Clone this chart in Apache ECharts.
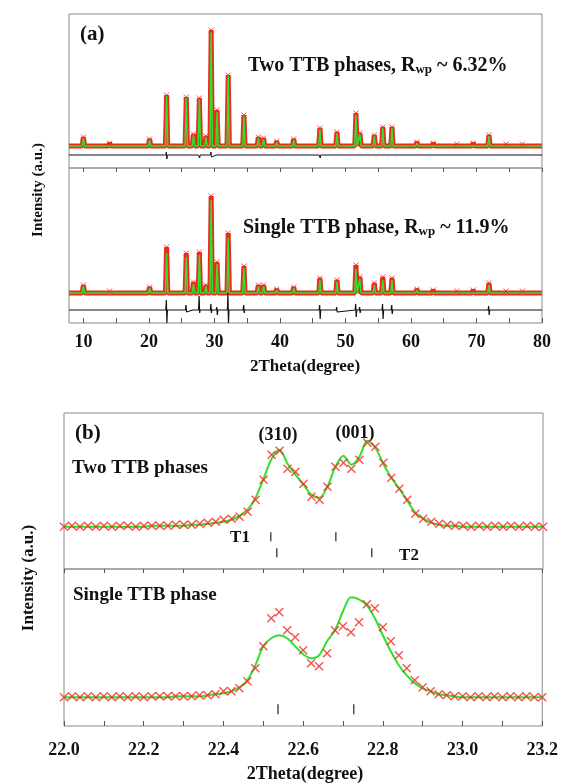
<!DOCTYPE html>
<html><head><meta charset="utf-8">
<script src="https://cdn.jsdelivr.net/npm/echarts@6/dist/echarts.min.js"></script>
<style>html,body{margin:0;padding:0;background:#fff}#c{width:561px;height:783px}</style>
</head><body><div id="c"></div>
<script>
// ---------- Panel (a): full patterns (peak positions in 2θ, heights in a.u.) ----------
const peakPos   = [10.0,14.0,20.1,22.7,25.7,26.8,27.7,28.7,29.5,30.4,32.1,34.5,36.7,37.5,39.5,42.1,46.1,48.7,51.6,52.2,54.4,55.7,57.1,60.9,63.4,67.0,69.5,71.9,74.5,77.0];
const obsTwoH   = [9,3,7,51,49,12,48,10,116,36,71,31,9,8,5,7,18,14,33,13,11,19,19,4,3,2,3,11,2,2];
const calcTwoH  = [8,2,6,50,48,11,47,9,114,34,70,30,8,7,4,6,17,13,31,12,10,18,18,3,2,1,2,10,1,1];
const obsOneH   = [8,2,6,46,40,11,41,8,97,31,60,27,8,8,4,6,15,13,28,16,10,16,15,4,3,2,3,10,2,2];
const calcOneH  = [7,1,5,40,36,9,38,7,93,29,55,25,7,7,3,5,13,11,24,14,8,13,13,3,2,1,2,8,1,1];
// difference curves (obs - calc), offsets below the patterns
const diffTwoPos  = [22.7,25.7,27.7,29.5,30.4,32.1,34.5,46.1,48.7,51.6,55.7,57.1,71.9];
const diffTwoUp   = [3,2,2,3,2,2,2,2,1,2,2,2,2];
const diffTwoDown = [-4,-2,-3,-2,-2,-2,-2,-3,-1,-2,-2,-2,-2];
const diffOnePos  = [22.7,25.7,26.8,27.7,29.5,30.4,32.1,34.5,37.0,46.1,48.7,51.6,52.2,54.4,55.7,57.1,71.9];
const diffOneUp   = [10,5,2,14,6,3,17,5,2,5,3,6,3,2,6,5,4];
const diffOneDown = [-13,-2,-2,-3,-3,-5,-13,-3,-2,-9,-2,-7,-3,-2,-9,-4,-5];
const ticksA      = [10,20,30,40,50,60,70,80];
const minorTicksA = [10,15,20,25,30,35,40,45,50,55,60,65,70,75,80];

// ---------- Panel (b): zoom on 22.0–23.2 ----------
const thetaB = [22.00,22.02,22.04,22.06,22.08,22.10,22.12,22.14,22.16,22.18,22.20,22.22,22.24,22.26,22.28,22.30,22.32,22.34,22.36,22.38,
  22.40,22.42,22.44,22.46,22.48,22.50,22.52,22.54,22.56,22.58,22.60,22.62,22.64,22.66,22.68,22.70,22.72,22.74,22.76,22.78,
  22.80,22.82,22.84,22.86,22.88,22.90,22.92,22.94,22.96,22.98,23.00,23.02,23.04,23.06,23.08,23.10,23.12,23.14,23.16,23.18,23.20];
const obsTwoB  = [0,1,0,1,0,1,0,1,1,0,1,1,1,1,2,2,2,3,4,5,
  7,8,10,15,27,47,72,76,58,55,43,30,27,40,60,64,58,67,84,80,
  64,49,38,27,13,8,5,3,2,1,1,0,1,0,1,0,1,0,1,0,0];
const calcTwoB = [0,0,0,0,0,0,0,0,0,0,0,1,1,1,1,1,2,2,3,4,
  5,7,11,17,29,48,68,77,63,52,42,32,29,40,60,71,62,70,86,79,
  63,49,38,26,14,8,4,2,1,1,0,0,0,0,0,0,0,0,0,0,0];
const obsOneB  = [0,1,0,1,0,1,0,1,0,1,0,1,1,1,1,1,1,2,2,3,
  6,6,9,16,29,51,79,85,67,60,47,34,31,44,67,71,65,75,93,89,
  70,56,42,29,17,10,6,3,2,1,1,0,1,0,1,0,1,0,1,0,0];
const calcOneB = [0,0,0,0,0,0,0,0,0,0,0,0,0,0,1,1,1,1,2,3,
  4,6,10,17,32,51,59,62,59,51,43,39,42,56,67,86,100,98,92,79,
  62,46,32,22,14,9,6,3,2,1,0,0,0,0,0,0,0,0,0,0,0];
const reflT1     = [22.518,22.681];
const reflT2     = [22.533,22.771];
const reflSingle = [22.537,22.727];
const ticksB      = [22.0,22.2,22.4,22.6,22.8,23.0,23.2];
const minorTicksB = [22.0,22.1,22.2,22.3,22.4,22.5,22.6,22.7,22.8,22.9,23.0,23.1,23.2];

// ---------- build ----------
const A_MIN = 7.8, A_MAX = 80;
const RED = '#f0281e', GREEN = '#2fe02f', FRAME = '#8a8a8a';
const FONT = '"Liberation Serif","Times New Roman",serif';
const XSYM = 'path://M0,0L10,10M10,0L0,10';

function profile(pos, h){
  const hw = 0.18, d = [[A_MIN,0]];
  pos.forEach((p,i)=>{ d.push([p-hw,0],[p,h[i]],[p+hw,0]); });
  d.push([A_MAX,0]); return d;
}
function tops(pos,h){ return pos.map((p,i)=>[p,h[i]]); }
function diffLine(base,pos,up,down){
  const d=[[A_MIN,base]];
  pos.forEach((p,i)=>{ d.push([p-0.12,base],[p-0.04,base+up[i]],[p+0.04,base+down[i]],[p+0.12,base]); });
  d.push([A_MAX,base]); return d;
}
function zipB(v){ return thetaB.map((t,i)=>[t,v[i]]); }

const chart = echarts.init(document.getElementById('c'), null, {renderer:'canvas'});
const gridBase = {show:true, borderColor:FRAME, borderWidth:1, backgroundColor:'transparent'};
const hiddenX = (gi,min,max)=>({type:'value',gridIndex:gi,min,max,axisLine:{show:false,onZero:false},axisTick:{show:false},axisLabel:{show:false},splitLine:{show:false}});
const labelStyle = {fontFamily:FONT,fontWeight:'bold',fontSize:18,color:'#111'};
const noLine = {show:false,onZero:false};

const option = {
  animation:false,
  backgroundColor:'#fff',
  grid:[
    Object.assign({left:69, top:14, width:473, height:154}, gridBase),
    Object.assign({left:69, top:168, width:473, height:155}, gridBase),
    Object.assign({left:64, top:413, width:479, height:156}, gridBase),
    Object.assign({left:64, top:569, width:479, height:157}, gridBase)
  ],
  xAxis:[
    hiddenX(0,A_MIN,A_MAX),
    {type:'value',gridIndex:1,min:A_MIN,max:A_MAX,position:'bottom',axisLine:noLine,splitLine:{show:false},
     axisTick:{show:true,inside:true,length:5,customValues:minorTicksA,lineStyle:{color:'#555'}},
     axisLabel:Object.assign({show:true,margin:10,customValues:ticksA},labelStyle)},
    {type:'value',gridIndex:1,min:A_MIN,max:A_MAX,position:'top',axisLine:noLine,splitLine:{show:false},
     axisTick:{show:true,inside:true,length:4,customValues:minorTicksA,lineStyle:{color:'#555'}},axisLabel:{show:false}},
    hiddenX(2,22,23.2),
    {type:'value',gridIndex:3,min:22,max:23.2,position:'bottom',axisLine:noLine,splitLine:{show:false},
     axisTick:{show:true,inside:true,length:5,customValues:minorTicksB,lineStyle:{color:'#555'}},
     axisLabel:Object.assign({show:true,margin:15,customValues:ticksB,formatter:v=>Number(v).toFixed(1)},labelStyle)},
    {type:'value',gridIndex:3,min:22,max:23.2,position:'top',axisLine:noLine,splitLine:{show:false},
     axisTick:{show:true,inside:true,length:4,customValues:minorTicksB,lineStyle:{color:'#555'}},axisLabel:{show:false}}
  ],
  yAxis:[
    {type:'value',gridIndex:0,min:-22,max:132,show:false},
    {type:'value',gridIndex:1,min:-30,max:125,show:false},
    {type:'value',gridIndex:2,min:-42.3,max:113.7,show:false},
    {type:'value',gridIndex:3,min:-28.7,max:128.3,show:false}
  ],
  series:[
    // panel (a) top: two TTB phases
    {type:'line',xAxisIndex:0,yAxisIndex:0,data:profile(peakPos,obsTwoH),showSymbol:false,lineStyle:{color:RED,width:5},z:2},
    {type:'line',xAxisIndex:0,yAxisIndex:0,data:profile(peakPos,calcTwoH),showSymbol:false,lineStyle:{color:GREEN,width:1.5},z:3},
    {type:'scatter',xAxisIndex:0,yAxisIndex:0,data:tops(peakPos,obsTwoH),symbol:XSYM,symbolSize:5,itemStyle:{color:'none',borderColor:RED,borderWidth:1},z:4},
    {type:'line',xAxisIndex:0,yAxisIndex:0,data:diffLine(-9,diffTwoPos,diffTwoUp,diffTwoDown),showSymbol:false,lineStyle:{color:'#111',width:1},z:3},
    // panel (a) bottom: single TTB phase
    {type:'line',xAxisIndex:1,yAxisIndex:1,data:profile(peakPos,obsOneH),showSymbol:false,lineStyle:{color:RED,width:5},z:2},
    {type:'line',xAxisIndex:1,yAxisIndex:1,data:profile(peakPos,calcOneH),showSymbol:false,lineStyle:{color:GREEN,width:1.5},z:3},
    {type:'scatter',xAxisIndex:1,yAxisIndex:1,data:tops(peakPos,obsOneH),symbol:XSYM,symbolSize:5,itemStyle:{color:'none',borderColor:RED,borderWidth:1},z:4},
    {type:'line',xAxisIndex:1,yAxisIndex:1,data:diffLine(-17,diffOnePos,diffOneUp,diffOneDown),showSymbol:false,lineStyle:{color:'#111',width:1.2},z:3},
    // panel (b) top
    {type:'line',xAxisIndex:3,yAxisIndex:2,data:zipB(calcTwoB),smooth:0.3,showSymbol:false,lineStyle:{color:GREEN,width:2},z:3},
    {type:'scatter',xAxisIndex:3,yAxisIndex:2,data:zipB(obsTwoB),symbol:XSYM,symbolSize:8,itemStyle:{color:'none',borderColor:RED,borderWidth:1.4},z:4},
    {type:'scatter',xAxisIndex:3,yAxisIndex:2,data:reflT1.map(t=>[t,-10]),symbol:'rect',symbolSize:[1.5,9],itemStyle:{color:'#222'}},
    {type:'scatter',xAxisIndex:3,yAxisIndex:2,data:reflT2.map(t=>[t,-26]),symbol:'rect',symbolSize:[1.5,9],itemStyle:{color:'#222'}},
    // panel (b) bottom
    {type:'line',xAxisIndex:4,yAxisIndex:3,data:zipB(calcOneB),smooth:0.3,showSymbol:false,lineStyle:{color:GREEN,width:2},z:3},
    {type:'scatter',xAxisIndex:4,yAxisIndex:3,data:zipB(obsOneB),symbol:XSYM,symbolSize:8,itemStyle:{color:'none',borderColor:RED,borderWidth:1.4},z:4},
    {type:'scatter',xAxisIndex:4,yAxisIndex:3,data:reflSingle.map(t=>[t,-12]),symbol:'rect',symbolSize:[1.5,10],itemStyle:{color:'#222'}}
  ],
  graphic:[
    {type:'text',x:80,y:35,style:{text:'(a)',fill:'#111',font:'bold 21px '+FONT,verticalAlign:'middle'}},
    {type:'text',x:248,y:66,style:{text:'{m|Two TTB phases, R}{s|wp}{m| ~ 6.32%}',verticalAlign:'middle',
      rich:{m:{fontFamily:FONT,fontWeight:'bold',fontSize:20,fill:'#111',color:'#111',lineHeight:20,verticalAlign:'top'},
            s:{fontFamily:FONT,fontWeight:'bold',fontSize:13,fill:'#111',color:'#111',lineHeight:12,verticalAlign:'bottom'}}}},
    {type:'text',x:243,y:228,style:{text:'{m|Single TTB phase, R}{s|wp}{m| ~ 11.9%}',verticalAlign:'middle',
      rich:{m:{fontFamily:FONT,fontWeight:'bold',fontSize:20,fill:'#111',color:'#111',lineHeight:20,verticalAlign:'top'},
            s:{fontFamily:FONT,fontWeight:'bold',fontSize:13,fill:'#111',color:'#111',lineHeight:12,verticalAlign:'bottom'}}}},
    {type:'text',x:38,y:190,rotation:Math.PI/2,style:{text:'Intensity (a.u.)',fill:'#111',font:'bold 15px '+FONT,align:'center',verticalAlign:'middle'}},
    {type:'text',x:305,y:367,style:{text:'2Theta(degree)',fill:'#111',font:'bold 17px '+FONT,align:'center',verticalAlign:'middle'}},
    {type:'text',x:75,y:434,style:{text:'(b)',fill:'#111',font:'bold 21px '+FONT,verticalAlign:'middle'}},
    {type:'text',x:72,y:468,style:{text:'Two TTB phases',fill:'#111',font:'bold 19px '+FONT,verticalAlign:'middle'}},
    {type:'text',x:278,y:435,style:{text:'(310)',fill:'#111',font:'bold 18px '+FONT,align:'center',verticalAlign:'middle'}},
    {type:'text',x:355,y:433,style:{text:'(001)',fill:'#111',font:'bold 18px '+FONT,align:'center',verticalAlign:'middle'}},
    {type:'text',x:240,y:538,style:{text:'T1',fill:'#111',font:'bold 17px '+FONT,align:'center',verticalAlign:'middle'}},
    {type:'text',x:409,y:556,style:{text:'T2',fill:'#111',font:'bold 17px '+FONT,align:'center',verticalAlign:'middle'}},
    {type:'text',x:73,y:595,style:{text:'Single TTB phase',fill:'#111',font:'bold 19px '+FONT,verticalAlign:'middle'}},
    {type:'text',x:29,y:578,rotation:Math.PI/2,style:{text:'Intensity (a.u.)',fill:'#111',font:'bold 17px '+FONT,align:'center',verticalAlign:'middle'}},
    {type:'text',x:305,y:774,style:{text:'2Theta(degree)',fill:'#111',font:'bold 18px '+FONT,align:'center',verticalAlign:'middle'}}
  ]
};
chart.setOption(option);
</script>
</body></html>
